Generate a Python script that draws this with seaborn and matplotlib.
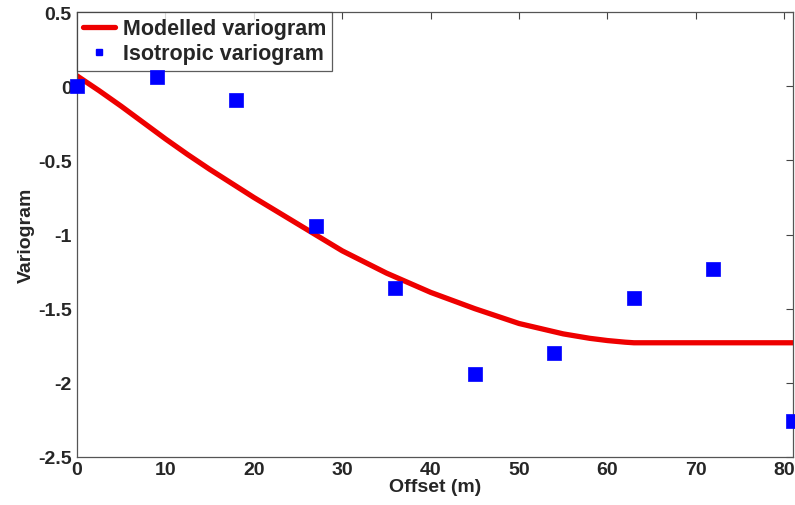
import matplotlib
matplotlib.use("Agg")
import matplotlib.pyplot as plt
from matplotlib.lines import Line2D
import seaborn as sns
import pandas as pd

# Experimental isotropic variogram (lag offsets in metres)
lag_offsets = [0, 9, 18, 27, 36, 45, 54, 63, 72, 81]
isotropic_values = [0.0, 0.06, -0.095, -0.94, -1.36, -1.94, -1.80, -1.43, -1.235, -2.26]

# Fitted model curve
model_offsets = [0, 2.5, 5, 7.5, 10, 12.5, 15, 17.5, 20, 25, 30, 35, 40, 45, 50,
                 55, 58, 60, 62, 63, 70, 81]
model_values = [0.07, -0.03, -0.135, -0.245, -0.355, -0.46, -0.56, -0.655, -0.75,
                -0.93, -1.11, -1.26, -1.39, -1.50, -1.60, -1.67, -1.70, -1.715,
                -1.726, -1.73, -1.73, -1.73]

x_ticks = [0, 10, 20, 30, 40, 50, 60, 70, 80]
y_ticks = [-2.5, -2, -1.5, -1, -0.5, 0, 0.5]
y_tick_labels = ["-2.5", "-2", "-1.5", "-1", "-0.5", "0", "0.5"]

sns.set_theme(style="white")
plt.rcParams["font.family"] = ["Liberation Sans", "DejaVu Sans"]
plt.rcParams["font.weight"] = "bold"

model_df = pd.DataFrame({"offset": model_offsets, "variogram": model_values})
points_df = pd.DataFrame({"offset": lag_offsets, "variogram": isotropic_values})

fig = plt.figure(figsize=(7.95, 5.06), dpi=100)
ax = fig.add_axes([0.097, 0.095, 0.9005, 0.879])

sns.lineplot(data=model_df, x="offset", y="variogram", ax=ax, color="#ee0000",
             linewidth=3.8, legend=False, zorder=2)
sns.scatterplot(data=points_df, x="offset", y="variogram", ax=ax, marker="s",
                s=100, color="#0000ff", edgecolor="#0000ff", linewidth=0.5,
                legend=False, zorder=3, clip_on=False)

ax.set_xlim(0, 81)
ax.set_ylim(-2.5, 0.5)
ax.set_xticks(x_ticks)
ax.set_yticks(y_ticks)
ax.set_yticklabels(y_tick_labels)
ax.set_xlabel("Offset (m)", fontsize=14, fontweight="bold", labelpad=0)
ax.set_ylabel("Variogram", fontsize=14, fontweight="bold", labelpad=2)

ax.tick_params(axis="both", direction="in", length=5, width=0.8, color="#444444",
               labelsize=14, top=True, right=True)
ax.tick_params(axis="x", pad=3)
ax.tick_params(axis="y", pad=4)
for lbl in ax.get_xticklabels() + ax.get_yticklabels():
    lbl.set_fontweight("bold")
for spine in ax.spines.values():
    spine.set_color("#555555")
    spine.set_linewidth(0.9)

handles = [
    Line2D([], [], color="#ee0000", linewidth=3.8, label="Modelled variogram"),
    Line2D([], [], color="#0000ff", marker="s", linestyle="none", markersize=4.5,
           label="Isotropic variogram"),
]
leg = ax.legend(handles=handles, loc="upper left", frameon=True,
                fancybox=False, borderaxespad=0.0, handlelength=1.5,
                handletextpad=0.35, borderpad=0.28, labelspacing=0.2,
                prop={"weight": "bold", "size": 15.5})
leg.get_frame().set_edgecolor("#333333")
leg.get_frame().set_linewidth(0.9)
leg.set_zorder(2.5)

fig.savefig("out.png", dpi=100, facecolor="white")
